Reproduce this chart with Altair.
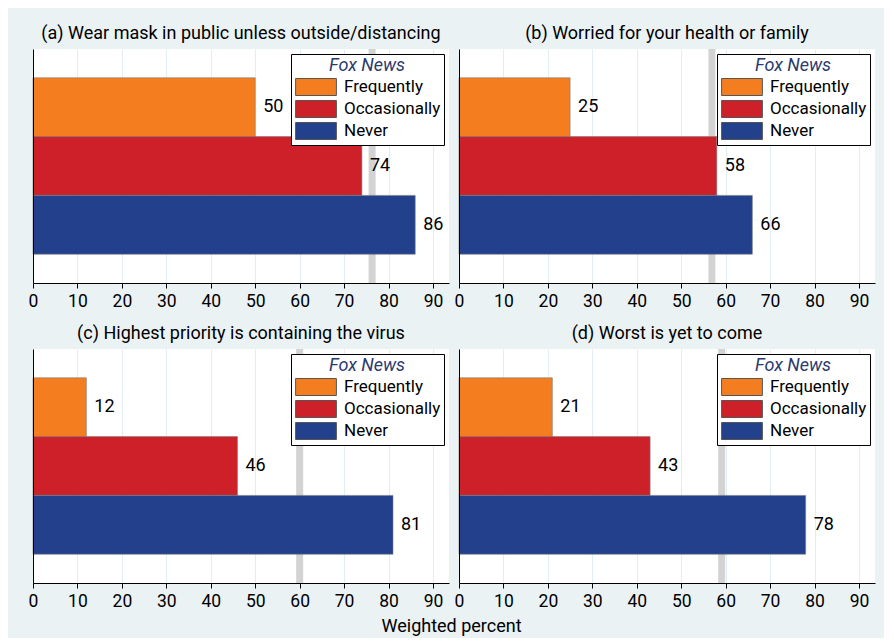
import altair as alt
import pandas as pd

categories = ["Frequently", "Occasionally", "Never"]
colors = ["#F47D20", "#CD2029", "#22408C"]
panel_titles = [
    "(a) Wear mask in public unless outside/distancing",
    "(b) Worried for your health or family",
    "(c) Highest priority is containing the virus",
    "(d) Worst is yet to come",
]
values_a = [50, 74, 86]
values_b = [25, 58, 66]
values_c = [12, 46, 81]
values_d = [21, 43, 78]
reference_lines = [76.3, 56.9, 60.0, 59.1]
tick_values = [0, 10, 20, 30, 40, 50, 60, 70, 80, 90]
legend_title = "Fox News"
x_axis_title = "Weighted percent"

FONT = "Roboto, Liberation Sans, sans-serif"


def panel(title, values, ref):
    df = pd.DataFrame({"group": categories, "pct": values})
    ref_df = pd.DataFrame({"pct": [ref]})
    x = alt.X(
        "pct:Q",
        scale=alt.Scale(domain=[0, 93.6], nice=False, zero=True),
        axis=alt.Axis(
            values=tick_values,
            title=None,
            grid=True,
            gridColor="#E3EEF3",
            gridWidth=1.2,
            domainColor="black",
            domainWidth=1,
            tickColor="black",
            tickSize=5,
            labelFont=FONT,
            labelFontSize=17.5,
            labelColor="black",
            labelPadding=4,
            labelFlush=False,
        ),
    )
    y = alt.Y(
        "group:N",
        sort=categories,
        scale=alt.Scale(paddingInner=0, paddingOuter=0.49),
        axis=alt.Axis(
            labels=False, ticks=False, title=None, grid=False,
            domainColor="black", domainWidth=1, zindex=1,
        ),
    )
    rule = alt.Chart(ref_df).mark_rule(color="#D3D3D3", strokeWidth=7).encode(x=x)
    bars = alt.Chart(df).mark_bar(stroke="#7A7A7A", strokeWidth=0.6).encode(
        x=x,
        y=y,
        color=alt.Color(
            "group:N",
            sort=categories,
            scale=alt.Scale(domain=categories, range=colors),
            legend=alt.Legend(
                title=legend_title,
                orient="top-right",
                offset=5,
                titleFont=FONT,
                titleFontSize=18,
                titleFontStyle="italic",
                titleFontWeight="normal",
                titleColor="#2B3A70",
                titleAnchor="middle",
                titlePadding=3,
                labelFont=FONT,
                labelFontSize=17,
                labelColor="black",
                labelOffset=19,
                labelLimit=300,
                symbolType="M-2.4,-1H2.4V1H-2.4Z",
                symbolSize=289,
                symbolOffset=13,
                symbolStrokeColor="#555555",
                symbolStrokeWidth=1,
                symbolOpacity=1,
                fillColor="white",
                strokeColor="black",
                padding=3,
                rowPadding=0,
                cornerRadius=0,
            ),
        ),
    )
    text = alt.Chart(df).mark_text(
        align="left", baseline="middle", dx=8, fontSize=18, font=FONT, color="black"
    ).encode(x=x, y=y, text="pct:Q")
    return alt.layer(rule, bars, text).properties(
        width=416,
        height=234,
        title=alt.TitleParams(
            title, font=FONT, fontSize=18, fontWeight="normal", color="black",
            anchor="middle", offset=3,
        ),
    )


panels = [
    panel(panel_titles[0], values_a, reference_lines[0]),
    panel(panel_titles[1], values_b, reference_lines[1]),
    panel(panel_titles[2], values_c, reference_lines[2]),
    panel(panel_titles[3], values_d, reference_lines[3]),
]

chart = (
    alt.concat(
        *panels,
        columns=2,
        spacing=alt.RowColnumber(row=66, column=10),
        bounds="flush",
        title=alt.TitleParams(
            x_axis_title, orient="bottom", font=FONT, fontSize=18,
            fontWeight="normal", color="black", anchor="middle", offset=8,
        ),
    )
    .resolve_legend(color="independent")
    .configure(
        font=FONT,
        background="#EAF2F3",
        padding={"left": 20, "top": 16, "right": 9, "bottom": 2},
    )
    .configure_view(fill="white", strokeWidth=0)
)

chart.save("out.html", embed_options={"renderer": "svg", "actions": False})
